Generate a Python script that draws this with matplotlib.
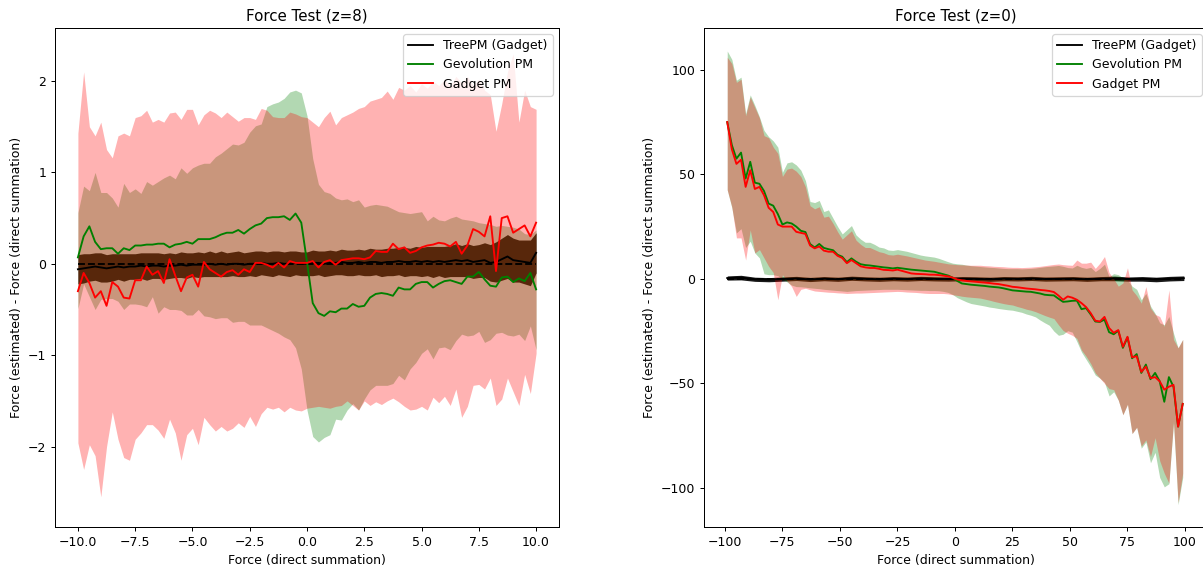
import numpy as np
import matplotlib
matplotlib.use("Agg")
import matplotlib.pyplot as plt

# ---------------- z = 8 panel (x grid step 0.25) ----------------
x_z8 = np.linspace(-10, 10, 81)

tree_mean_z8 = [-0.06, -0.05, -0.04, -0.03, -0.04, -0.05, -0.04, -0.03, -0.04, -0.03,
                -0.03, -0.02, -0.03, -0.02, -0.02, -0.03, -0.02, -0.02, -0.01, -0.02,
                -0.01, -0.01, -0.01, 0.00, -0.01, 0.00, -0.01, 0.00, 0.00, -0.01,
                0.00, 0.00, 0.01, 0.00, 0.00, 0.01, 0.00, 0.00, 0.01, 0.00,
                0.00, 0.01, 0.01, 0.00, 0.01, 0.01, 0.02, 0.01, 0.01, 0.02,
                0.01, 0.02, 0.02, 0.01, 0.02, 0.02, 0.03, 0.02, 0.02, 0.03,
                0.02, 0.03, 0.02, 0.03, 0.02, 0.03, 0.04, 0.03, 0.04, 0.02,
                0.03, 0.04, 0.01, 0.02, 0.05, 0.08, 0.04, 0.03, 0.02, 0.01, 0.12]
tree_std_z8 = [0.16, 0.16, 0.15, 0.15, 0.16, 0.15, 0.15, 0.14, 0.15, 0.14,
               0.14, 0.14, 0.15, 0.14, 0.14, 0.14, 0.14, 0.13, 0.14, 0.14,
               0.13, 0.14, 0.13, 0.14, 0.13, 0.14, 0.13, 0.13, 0.14, 0.13,
               0.13, 0.14, 0.13, 0.13, 0.14, 0.13, 0.13, 0.14, 0.13, 0.13,
               0.13, 0.14, 0.13, 0.14, 0.14, 0.13, 0.14, 0.14, 0.14, 0.14,
               0.14, 0.15, 0.14, 0.15, 0.15, 0.15, 0.15, 0.16, 0.15, 0.16,
               0.16, 0.16, 0.17, 0.16, 0.17, 0.17, 0.18, 0.17, 0.18, 0.18,
               0.18, 0.19, 0.20, 0.22, 0.23, 0.24, 0.24, 0.23, 0.24, 0.25, 0.22]

gev_mean_z8 = [0.07, 0.30, 0.41, 0.24, 0.16, 0.17, 0.17, 0.11, 0.17, 0.15,
               0.20, 0.20, 0.21, 0.21, 0.22, 0.22, 0.18, 0.21, 0.22, 0.24,
               0.22, 0.27, 0.27, 0.27, 0.29, 0.32, 0.34, 0.34, 0.37, 0.33,
               0.38, 0.42, 0.44, 0.50, 0.51, 0.51, 0.52, 0.48, 0.55, 0.45,
               0.02, -0.43, -0.54, -0.57, -0.52, -0.53, -0.49, -0.49, -0.44, -0.47,
               -0.46, -0.37, -0.33, -0.32, -0.33, -0.35, -0.26, -0.28, -0.28, -0.22,
               -0.20, -0.20, -0.26, -0.22, -0.19, -0.18, -0.20, -0.22, -0.14, -0.14,
               -0.09, -0.17, -0.24, -0.25, -0.15, -0.14, -0.20, -0.16, -0.19, -0.10, -0.28]
gev_hi_z8 = [0.56, 0.85, 0.80, 1.00, 0.78, 0.78, 0.72, 0.62, 0.88, 0.78,
             0.82, 0.77, 0.90, 0.86, 0.90, 0.94, 0.97, 0.93, 1.05, 0.99,
             1.05, 1.08, 1.10, 1.10, 1.17, 1.21, 1.26, 1.31, 1.30, 1.33,
             1.44, 1.51, 1.53, 1.72, 1.75, 1.77, 1.81, 1.88, 1.90, 1.87,
             1.62, 1.15, 0.87, 0.79, 0.77, 0.72, 0.70, 0.71, 0.68, 0.70,
             0.62, 0.64, 0.65, 0.64, 0.63, 0.60, 0.57, 0.56, 0.55, 0.56,
             0.57, 0.47, 0.52, 0.48, 0.47, 0.50, 0.52, 0.49, 0.48, 0.47,
             0.45, 0.44, 0.43, 0.41, 0.42, 0.41, 0.40, 0.38, 0.33, 0.32, 0.37]
gev_lo_z8 = [-0.49, -0.22, -0.36, -0.50, -0.39, -0.38, -0.38, -0.41, -0.50, -0.44,
             -0.44, -0.45, -0.47, -0.36, -0.54, -0.47, -0.50, -0.50, -0.51, -0.56,
             -0.56, -0.50, -0.57, -0.58, -0.60, -0.59, -0.59, -0.64, -0.63, -0.63,
             -0.67, -0.67, -0.67, -0.70, -0.73, -0.76, -0.80, -0.83, -0.92, -1.15,
             -1.60, -1.89, -1.95, -1.90, -1.87, -1.70, -1.71, -1.60, -1.53, -1.60,
             -1.48, -1.38, -1.33, -1.33, -1.33, -1.31, -1.22, -1.27, -1.15, -1.08,
             -0.98, -0.93, -1.04, -0.92, -0.91, -0.94, -0.84, -0.77, -0.79, -0.78,
             -0.74, -0.86, -0.83, -0.76, -0.75, -0.78, -0.79, -0.77, -0.84, -0.68, -0.94]

gad_mean_z8 = [-0.30, -0.10, -0.21, -0.37, -0.30, -0.46, -0.20, -0.25, -0.37, -0.38,
               -0.18, -0.18, -0.03, -0.12, -0.08, -0.21, 0.05, -0.13, -0.30, -0.15,
               -0.12, -0.25, 0.02, -0.06, -0.10, -0.14, -0.09, -0.07, -0.12, -0.06,
               -0.09, 0.01, 0.01, -0.01, -0.04, 0.01, -0.04, 0.03, 0.01, 0.01,
               0.01, 0.03, -0.04, 0.02, 0.04, -0.01, 0.04, 0.05, 0.06, 0.06,
               0.05, 0.07, 0.14, 0.13, 0.13, 0.22, 0.16, 0.18, 0.12, 0.14,
               0.18, 0.20, 0.21, 0.23, 0.22, 0.19, 0.24, 0.11, 0.20, 0.38,
               0.35, 0.30, 0.52, -0.08, 0.50, 0.52, 0.34, 0.38, 0.42, 0.30, 0.45]
gad_hi_z8 = [1.43, 2.10, 1.50, 1.40, 1.55, 1.25, 1.16, 1.40, 1.43, 1.40,
             1.60, 1.62, 1.68, 1.55, 1.58, 1.55, 1.65, 1.66, 1.58, 1.69,
             1.69, 1.52, 1.63, 1.68, 1.65, 1.60, 1.66, 1.61, 1.56, 1.60,
             1.60, 1.58, 1.70, 1.68, 1.61, 1.60, 1.60, 1.66, 1.64, 1.61,
             1.60, 1.55, 1.50, 1.60, 1.67, 1.52, 1.60, 1.63, 1.66, 1.70,
             1.72, 1.78, 1.80, 1.82, 1.89, 1.80, 1.93, 1.90, 1.95, 1.88,
             1.97, 1.92, 2.00, 1.95, 2.02, 1.94, 2.05, 1.98, 2.05, 1.95,
             2.02, 1.90, 1.85, 1.45, 1.75, 2.10, 2.30, 1.55, 1.90, 1.72, 1.69]
gad_lo_z8 = [-1.96, -2.25, -1.98, -2.10, -2.55, -2.00, -1.62, -1.92, -2.12, -2.15,
             -1.92, -1.85, -1.76, -1.76, -1.82, -1.91, -1.70, -1.85, -2.15, -1.87,
             -1.80, -1.98, -1.68, -1.76, -1.83, -1.78, -1.83, -1.80, -1.74, -1.79,
             -1.67, -1.78, -1.64, -1.57, -1.59, -1.57, -1.62, -1.57, -1.60, -1.61,
             -1.58, -1.57, -1.56, -1.57, -1.58, -1.56, -1.55, -1.50, -1.55, -1.60,
             -1.50, -1.55, -1.51, -1.54, -1.50, -1.47, -1.51, -1.56, -1.60, -1.59,
             -1.56, -1.60, -1.46, -1.52, -1.45, -1.55, -1.37, -1.68, -1.56, -1.33,
             -1.32, -1.37, -1.25, -1.55, -1.48, -1.25, -1.40, -1.55, -1.21, -1.42, -0.98]

# ---------------- z = 0 panel (x grid step 2) ----------------
x_z0 = np.arange(-99, 100, 2)

x_tree_z0 = np.linspace(-99, 99.5, 34)
tree_mean_z0 = [0.4, 0.6, -0.2, -0.4, -0.1, 0.2, -0.3, 0.1, -0.2, 0.3,
                0.0, -0.2, 0.1, -0.1, 0.2, 0.0, -0.1, 0.1, 0.0, -0.2,
                0.1, 0.0, 0.2, -0.1, 0.0, 0.1, -0.2, 0.1, 0.2, -0.1,
                0.0, -0.3, 0.1, 0.3]
tree_std_z0 = [1.0, 1.1, 1.0, 1.0, 1.0, 1.0, 1.0, 1.0, 1.0, 1.0,
               1.0, 1.0, 1.0, 1.0, 1.0, 1.0, 1.0, 1.0, 1.0, 1.0,
               1.0, 1.0, 1.0, 1.0, 1.0, 1.0, 1.0, 1.0, 1.1, 1.0,
               1.1, 1.1, 1.1, 1.1]

gev_mean_z0 = [75, 64, 57.5, 60.4, 48, 56, 46, 45.5, 42, 36,
               35, 31, 26, 27, 26.5, 25, 23, 22.4, 16.7, 15,
               16.7, 14.8, 14.2, 13.7, 11.5, 10.6, 8, 9.8, 8.2, 7,
               6.6, 6.4, 6.1, 5.8, 5.5, 5.3, 5.0, 5.3, 5.0, 4.7,
               4.4, 4.2, 4.0, 3.8, 3.6, 3.4, 2.8, 2.2, 1.6, 0.6,
               -1.0, -2.2, -2.5, -2.8, -3.0, -3.2, -3.4, -3.7, -3.9, -4.1,
               -4.5, -5.0, -5.5, -5.7, -5.9, -6.1, -6.2, -6.6, -7.0, -7.6,
               -7.8, -7.9, -9.5, -11.0, -10.8, -10.5, -10.4, -14.5, -14.0, -17.0,
               -20.4, -20.6, -19.5, -25.5, -26.5, -24.8, -33.0, -28.0, -38.0, -36.0,
               -45.0, -41.0, -48.0, -45.0, -49.0, -58.8, -47.0, -51.6, -70.7, -59.8]
gev_hi_z0 = [109, 105, 95, 96.5, 79, 88, 83, 77.5, 71, 68,
             66, 63, 51, 55.5, 56, 54.5, 52, 47, 37, 36.5,
             37.5, 32.2, 33, 29, 25, 21.5, 23.5, 25.5, 21, 19,
             17.5, 17.5, 16.5, 15.2, 14.8, 13.8, 13.6, 14.0, 13.6, 13.2,
             12.6, 12.0, 11.4, 11.0, 10.7, 10.4, 9.8, 9.0, 8.2, 7.5,
             7.2, 7.0, 6.6, 6.3, 6.1, 5.9, 5.7, 5.5, 5.4, 5.2,
             5.0, 4.9, 4.9, 4.9, 4.8, 4.9, 5.0, 5.2, 5.5, 5.8,
             6.0, 6.2, 6.4, 6.0, 5.4, 5.2, 6.5, 5.5, 5.0, 5.5,
             3.5, 5.0, 7.0, 1.0, 2.5, 2.0, 0.5, -0.5, -3.5, -5.0,
             -10.0, -7.0, -13.0, -16.5, -21.0, -22.0, -18.0, -26.0, -33.0, -29.0]
gev_lo_z0 = [42.6, 34, 22, 24, 15, 18, 12.4, 10, 2.4, 2,
             2, 1.5, 0, -1.5, -3, -3.7, -3.8, -4.0, -4.3, -4.5,
             -4.7, -5.0, -5.2, -5.4, -5.6, -5.8, -6.0, -5.8, -5.6, -5.5,
             -5.4, -5.3, -5.2, -5.1, -5.0, -5.0, -5.0, -5.0, -5.1, -5.2,
             -5.3, -5.4, -5.5, -5.5, -5.6, -5.6, -5.7, -6.0, -6.5, -7.5,
             -9.0, -10.0, -11.0, -11.8, -12.2, -12.6, -13.0, -13.5, -13.8, -14.2,
             -14.5, -14.8, -15.0, -15.5, -16.0, -16.8, -17.4, -18.2, -19.7, -21.0,
             -22.2, -25.0, -27.0, -26.5, -24.8, -25.5, -30.0, -35.0, -38.5, -42.0,
             -46.0, -47.5, -49.5, -56.0, -54.0, -58.0, -65.0, -60.0, -74.0, -71.0,
             -81.0, -78.0, -88.0, -83.0, -95.0, -99.5, -98.0, -69.0, -108.0, -95.0]

gad_mean_z0 = [75, 62, 55, 57, 44, 52, 43, 44, 40, 34,
               32, 26, 25, 25, 25, 22.5, 22, 21.5, 16, 14.6,
               15.5, 13.5, 13, 13, 11, 10, 7.5, 9, 7.5, 6,
               5.5, 5.2, 5.2, 4.8, 4.3, 4.2, 4.0, 4.4, 3.8, 3.2,
               2.6, 2.4, 2.3, 2.2, 2.0, 2.0, 1.8, 1.5, 1.2, 0.6,
               -0.3, -0.7, -1.0, -1.2, -1.4, -1.6, -1.8, -2.0, -2.3, -2.5,
               -2.9, -3.3, -3.8, -4.0, -4.3, -4.6, -4.8, -5.0, -5.3, -5.5,
               -5.8, -6.3, -8.0, -10.0, -8.4, -9.0, -10.0, -11.6, -13.5, -16.4,
               -20.0, -20.4, -18.2, -23.5, -25.8, -24.5, -32.5, -27.7, -37.5, -37.0,
               -44.5, -42.0, -47.5, -47.0, -49.0, -53.0, -51.6, -50.7, -70.7, -59.8]
gad_hi_z0 = [106, 103, 94, 95.5, 78, 87, 82, 77, 68.5, 67.5,
             63, 60, 49, 52.5, 53, 51.5, 49, 44, 35, 33.5,
             34.5, 29.5, 30, 26.5, 22.5, 19, 21, 23, 18.5, 16.5,
             15, 15, 14, 13, 12.5, 11.6, 11.4, 11.8, 11.4, 11.0,
             10.5, 10.0, 9.5, 9.0, 8.7, 8.4, 8.0, 7.6, 7.2, 7.0,
             6.8, 6.7, 6.6, 6.5, 6.5, 6.5, 6.3, 6.2, 6.0, 5.9,
             5.8, 5.6, 5.5, 5.5, 5.4, 5.5, 5.6, 5.8, 6.0, 6.3,
             6.6, 6.9, 7.1, 6.8, 6.6, 6.5, 9.0, 7.5, 7.5, 8.0,
             5.0, 7.5, 10.7, 3.0, 0.0, -3.5, -2.0, 5.3, -5.3, -8.0,
             -11.6, -3.7, -14.0, -17.0, -18.0, -22.8, -5.3, -29.0, -33.0, -29.0]
gad_lo_z0 = [42.6, 34.4, 19.6, 19.6, 9, 23.4, 12.4, 14, 10, 6,
             3, -10, 2, -1, -3.7, -8.4, -5, -4.5, -5.2, -5.8,
             -6.0, -6.2, -6.4, -6.5, -6.7, -6.8, -7.0, -6.9, -6.8, -6.8,
             -6.7, -6.6, -6.5, -6.4, -6.3, -6.2, -6.1, -6.0, -6.1, -6.3,
             -6.4, -6.5, -6.7, -6.9, -7.0, -7.0, -7.0, -7.0, -7.2, -7.6,
             -7.9, -8.3, -8.6, -8.8, -9.0, -9.2, -9.7, -10.2, -10.8, -11.3,
             -11.8, -12.2, -12.5, -13.2, -13.8, -14.5, -15.0, -15.7, -16.6, -17.5,
             -18.3, -19.0, -22.0, -24.7, -26.0, -27.0, -28.5, -34.0, -37.0, -40.5,
             -45.0, -47.5, -50.0, -52.5, -53.0, -58.0, -65.0, -60.0, -74.0, -71.0,
             -80.0, -77.0, -85.0, -76.0, -87.0, -93.0, -97.7, -68.0, -107.0, -93.0]

labels = ["TreePM (Gadget)", "Gevolution PM", "Gadget PM"]
titles = ["Force Test (z=8)", "Force Test (z=0)"]

DPI = 90
fig = plt.figure(figsize=(1203 / DPI, 567 / DPI), dpi=DPI)
ax1 = fig.add_axes([55 / 1203, 40 / 567, 504 / 1203, 499 / 567])
ax2 = fig.add_axes([704 / 1203, 40 / 567, 504 / 1203, 499 / 567])


def panel(ax, xt, tm, ts, x, gm, glo, ghi, pm, plo, phi, title):
    tm = np.asarray(tm); ts = np.asarray(ts)
    ax.fill_between(xt, tm - ts, tm + ts, color="k", alpha=0.9, linewidth=0)
    ax.fill_between(x, glo, ghi, color="g", alpha=0.3, linewidth=0)
    ax.fill_between(x, plo, phi, color="r", alpha=0.3, linewidth=0)
    ax.hlines(0, np.min(x), np.max(x), colors="k", linestyles="--", lw=1.5)
    ax.plot(xt, tm, color="k", lw=1.5, label=labels[0])
    ax.plot(x, gm, color="g", lw=1.5, label=labels[1])
    ax.plot(x, pm, color="r", lw=1.5, label=labels[2])
    ax.set_title(title)
    ax.set_xlabel("Force (direct summation)")
    ax.set_ylabel("Force (estimated) - Force (direct summation)")
    ax.legend(loc="upper right")


panel(ax1, x_z8, tree_mean_z8, tree_std_z8, x_z8, gev_mean_z8, gev_lo_z8, gev_hi_z8,
      gad_mean_z8, gad_lo_z8, gad_hi_z8, titles[0])
panel(ax2, x_tree_z0, tree_mean_z0, tree_std_z0, x_z0, gev_mean_z0, gev_lo_z0, gev_hi_z0,
      gad_mean_z0, gad_lo_z0, gad_hi_z0, titles[1])

ax1.set_xlim(-11, 11)
ax1.set_ylim(-2.88, 2.58)
ax2.set_xlim(-109.1, 110)
ax2.set_ylim(-118.7, 120)

fig.savefig("out.png", dpi=DPI)
